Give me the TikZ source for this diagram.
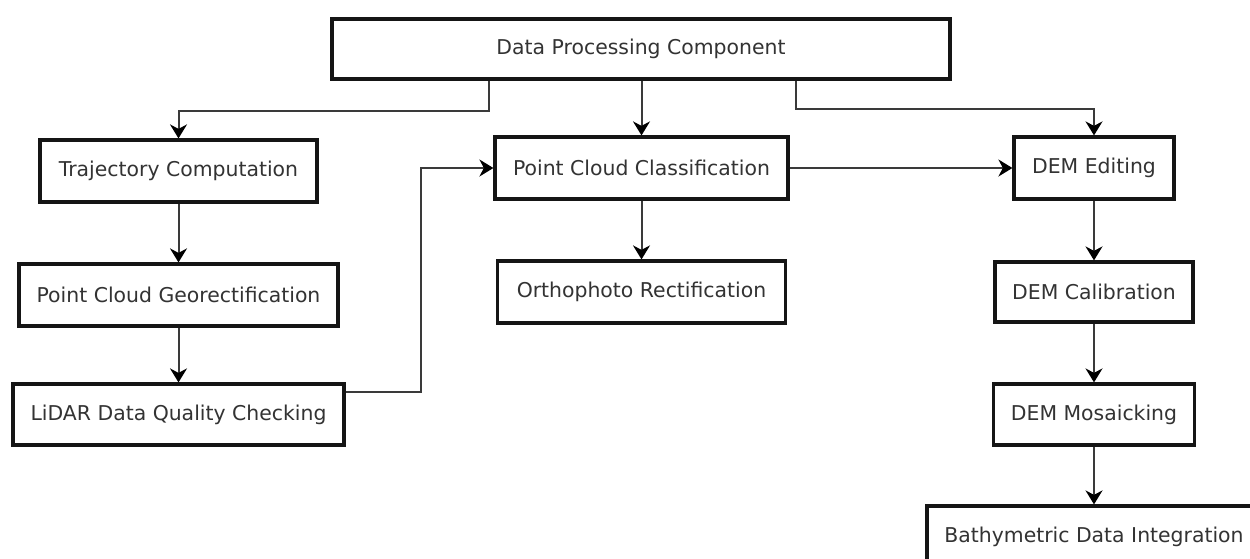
\documentclass[tikz,border=0pt]{standalone}
\usepackage{fontspec}
\setmainfont{DejaVu Sans}
\usetikzlibrary{arrows.meta}
\definecolor{txt}{HTML}{333333}
\definecolor{bord}{HTML}{151515}
\definecolor{lin}{HTML}{3A3A3A}
\begin{document}
\begin{tikzpicture}[x=1pt,y=1pt,
  box/.style={draw=bord,line width=3.2pt,fill=white,text=txt,inner sep=0pt,
    font=\fontsize{20.4}{23}\selectfont},
  conn/.style={draw=lin,line width=2pt,-{Stealth[length=14pt,width=17pt,inset=4.5pt,color=black]}}]
\useasboundingbox (0,0) rectangle (1250,-558);
\clip (0,0) rectangle (1250,-558);
\fill[white] (0,0) rectangle (1250,-558);
\node[box,minimum width=618pt,minimum height=60pt] (top) at (641,-49) {Data Processing Component};
\node[box,minimum width=277pt,minimum height=62pt] (traj) at (178.5,-171) {Trajectory Computation};
\node[box,minimum width=319pt,minimum height=62pt] (geo) at (178.5,-295) {Point Cloud Georectification};
\node[box,minimum width=331pt,minimum height=61pt] (lidar) at (178.5,-414.5) {LiDAR Data Quality Checking};
\node[box,minimum width=293pt,minimum height=62pt] (pcc) at (641.5,-168) {Point Cloud Classification};
\node[box,minimum width=288pt,minimum height=62pt] (ortho) at (641.5,-292) {Orthophoto Rectification};
\node[box,minimum width=160pt,minimum height=62pt] (edit) at (1094,-168) {DEM Editing};
\node[box,minimum width=198pt,minimum height=60pt] (calib) at (1094,-292) {DEM Calibration};
\node[box,minimum width=201pt,minimum height=61pt] (mosaic) at (1094,-414.5) {DEM Mosaicking};
\node[box,minimum width=334pt,minimum height=62pt] (bathy) at (1094,-537) {Bathymetric Data Integration};
\coordinate (tl) at (489,-111);
\coordinate (tr) at (796,-109);
\coordinate (lq) at (421,-392);
\draw[conn] (top.south -| tl) -- (tl) -| (traj.north);
\draw[conn] (top.south -| pcc.north) -- (pcc.north);
\draw[conn] (top.south -| tr) -- (tr) -| (edit.north);
\draw[conn] (traj.south) -- (geo.north);
\draw[conn] (geo.south) -- (lidar.north);
\draw[conn] (lidar.east |- lq) -- (lq) |- (pcc.west);
\draw[conn] (pcc.east) -- (edit.west);
\draw[conn] (pcc.south) -- (ortho.north);
\draw[conn] (edit.south) -- (calib.north);
\draw[conn] (calib.south) -- (mosaic.north);
\draw[conn] (mosaic.south) -- (bathy.north);
\end{tikzpicture}
\end{document}
